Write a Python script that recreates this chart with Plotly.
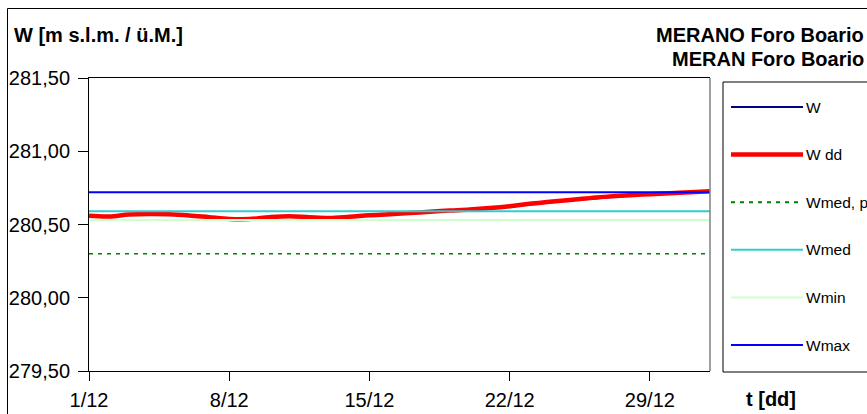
import pandas as pd
import plotly.graph_objects as go

# ---------------- data ----------------
START, END = "2012-12-01", "2013-01-01"
TICK_DATES = ["2012-12-01", "2012-12-08", "2012-12-15", "2012-12-22", "2012-12-29"]
TICK_LABELS = ["1/12", "8/12", "15/12", "22/12", "29/12"]
Y_TICKS = [279.5, 280.0, 280.5, 281.0, 281.5]

# W: water level, 12-hourly readings (1/12 00:00 -> 1/1 00:00)
W_VALUES = [
    280.556, 280.552, 280.550, 280.556, 280.565, 280.566, 280.568, 280.570,
    280.566, 280.563, 280.560, 280.552, 280.546, 280.540, 280.534, 280.531,
    280.532, 280.536, 280.545, 280.550, 280.553, 280.550, 280.545, 280.540,
    280.541, 280.545, 280.549, 280.555, 280.559, 280.562, 280.566, 280.570,
    280.574, 280.579, 280.583, 280.588, 280.591, 280.596, 280.598, 280.603,
    280.607, 280.613, 280.619, 280.627, 280.636, 280.643, 280.649, 280.655,
    280.662, 280.668, 280.674, 280.680, 280.686, 280.690, 280.694, 280.698,
    280.702, 280.705, 280.708, 280.711, 280.715, 280.719, 280.722,
]
# W dd: daily values (1/12 -> 1/1)
WDD_VALUES = [
    280.560, 280.555, 280.568, 280.572, 280.570, 280.562, 280.550, 280.538,
    280.537, 280.550, 280.557, 280.550, 280.545, 280.553, 280.563, 280.570,
    280.578, 280.587, 280.595, 280.602, 280.612, 280.625, 280.642, 280.655,
    280.668, 280.680, 280.692, 280.700, 280.707, 280.713, 280.720, 280.727,
]
W_MED_P = 280.30
W_MED = 280.59
W_MIN = 280.53
W_MAX = 280.72

# ---------------- figure ----------------
FW, FH = 867, 414
ML, MR, MT, MB = 89, 157, 78, 43
PW, PH = FW - ML - MR, FH - MT - MB
FONT = "Arial, Liberation Sans, sans-serif"


def px(x):
    return (x - ML) / PW


def py(y):
    return (FH - MB - y) / PH


w_x = pd.date_range(START, END, freq="12h")
dd_x = pd.date_range(START, END, freq="D")
flat_x = [START, END]

series = [
    dict(name="W", x=w_x, y=W_VALUES, color="#000080", width=1.5, dash="solid", shape="linear"),
    dict(name="W dd", x=dd_x, y=WDD_VALUES, color="#FF0000", width=4.5, dash="solid", shape="spline"),
    dict(name="Wmed, p", x=flat_x, y=[W_MED_P] * 2, color="#008000", width=1.5, dash="4px,5px", shape="linear"),
    dict(name="Wmed", x=flat_x, y=[W_MED] * 2, color="#33CCCC", width=2, dash="solid", shape="linear"),
    dict(name="Wmin", x=flat_x, y=[W_MIN] * 2, color="#CCFFCC", width=2, dash="solid", shape="linear"),
    dict(name="Wmax", x=flat_x, y=[W_MAX] * 2, color="#0000FF", width=2, dash="solid", shape="linear"),
]

fig = go.Figure()
for s in series:
    fig.add_trace(go.Scatter(
        x=s["x"], y=s["y"], name=s["name"], mode="lines",
        line=dict(color=s["color"], width=s["width"], dash=s["dash"], shape=s["shape"]),
        showlegend=False,
    ))

shapes = []
annotations = []

# outer chart border
shapes.append(dict(type="rect", xref="paper", yref="paper",
                   x0=px(7.5), x1=px(920), y0=py(430), y1=py(8.5),
                   line=dict(color="black", width=1), layer="below"))
# right plot-area border (grey)
shapes.append(dict(type="line", xref="paper", yref="paper",
                   x0=1, x1=1, y0=0, y1=1, line=dict(color="#808080", width=1.5)))

# legend box
shapes.append(dict(type="rect", xref="paper", yref="paper",
                   x0=px(723), x1=px(920), y0=py(372), y1=py(82),
                   line=dict(color="black", width=1), fillcolor="white"))
for k, s in enumerate(series):
    yc = 107 + 47.6 * k
    shapes.append(dict(type="line", xref="paper", yref="paper",
                       x0=px(731), x1=px(803), y0=py(yc), y1=py(yc),
                       line=dict(color=s["color"], width=s["width"] if s["width"] > 2 else 2,
                                 dash=s["dash"])))
    annotations.append(dict(xref="paper", yref="paper", x=px(804), y=py(yc),
                            xanchor="left", yanchor="middle", showarrow=False,
                            text=s["name"], font=dict(family=FONT, size=15.5, color="black")))

# titles
annotations.append(dict(xref="paper", yref="paper", x=px(12), y=py(35),
                        xanchor="left", yanchor="middle", showarrow=False,
                        text="<b>W [m s.l.m. / ü.M.]</b>",
                        font=dict(family=FONT, size=20, color="black")))
annotations.append(dict(xref="paper", yref="paper", x=px(866), y=py(35),
                        xanchor="right", yanchor="middle", showarrow=False,
                        text="<b>MERANO Foro Boario</b>",
                        font=dict(family=FONT, size=20, color="black")))
annotations.append(dict(xref="paper", yref="paper", x=px(866), y=py(59),
                        xanchor="right", yanchor="middle", showarrow=False,
                        text="<b>MERAN Foro Boario</b>",
                        font=dict(family=FONT, size=20, color="black")))
annotations.append(dict(xref="paper", yref="paper", x=px(744), y=py(399),
                        xanchor="left", yanchor="middle", showarrow=False,
                        text="<b>t [dd]</b>",
                        font=dict(family=FONT, size=20, color="black")))

fig.update_layout(
    width=FW, height=FH,
    margin=dict(l=ML, r=MR, t=MT, b=MB, pad=0, autoexpand=False),
    paper_bgcolor="white", plot_bgcolor="white",
    separators=",.",
    showlegend=False,
    shapes=shapes, annotations=annotations,
    font=dict(family=FONT, size=20, color="black"),
)
fig.update_xaxes(
    type="date", range=[START, END], automargin=False,
    tickvals=TICK_DATES, ticktext=TICK_LABELS,
    ticks="outside", ticklen=9, tickcolor="black", tickwidth=1,
    ticklabelstandoff=2,
    showline=True, linecolor="black", linewidth=1, mirror=True,
    showgrid=False, zeroline=False,
    tickfont=dict(family=FONT, size=20, color="black"),
)
fig.update_yaxes(
    range=[279.5, 281.5], tickvals=Y_TICKS, tickformat=".2f", automargin=False,
    ticks="outside", ticklen=10, tickcolor="black", tickwidth=1,
    ticklabelstandoff=4,
    showline=True, linecolor="black", linewidth=1,
    showgrid=False, zeroline=False,
    tickfont=dict(family=FONT, size=20, color="black"),
)

fig.write_html("out.html", config={"displayModeBar": False},
               post_script="document.body.style.margin='0';")
